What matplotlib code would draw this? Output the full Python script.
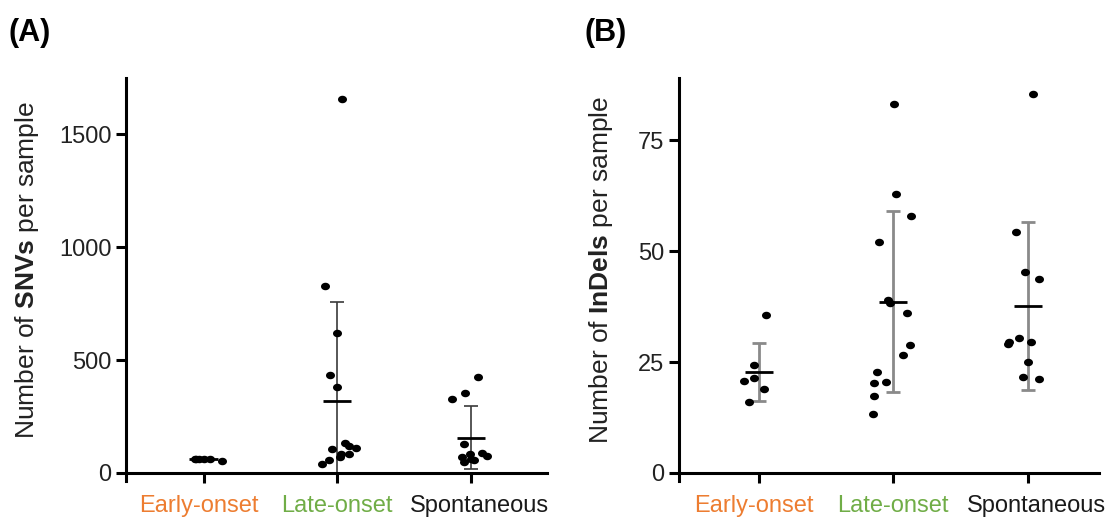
import numpy as np
import matplotlib
matplotlib.use("Agg")
import matplotlib.pyplot as plt
from matplotlib.transforms import ScaledTranslation

plt.rcParams['font.family'] = ['Liberation Sans', 'DejaVu Sans']
plt.rcParams['mathtext.fontset'] = 'custom'
plt.rcParams['mathtext.rm'] = 'Liberation Sans'
plt.rcParams['mathtext.bf'] = 'Liberation Sans:bold'

# categories
groups = ['Early-onset', 'Late-onset', 'Spontaneous']
group_colors = ['#ED7D31', '#70AD47', '#1a1a1a']

# (A) SNVs per sample
snv_early = [61, 64, 64, 62, 53, 60]
snv_late = [1658, 829, 619, 434, 379, 133, 120, 110, 105, 83, 84, 71, 59, 40]
snv_spon = [426, 355, 330, 130, 71, 82, 89, 74, 59, 49, 62]
snv_mean = [60, 320, 157]
snv_sd = [5, 438, 139]

# (B) InDels per sample
indel_early = [35.6, 24.3, 20.7, 21.4, 18.9, 15.9]
indel_late = [83.1, 62.9, 57.9, 52.0, 39.0, 38.4, 36.1, 28.8, 26.5, 22.7, 20.2, 20.4, 17.3, 13.4]
indel_spon = [85.3, 54.2, 45.4, 43.6, 29.6, 29.1, 30.4, 29.6, 25.1, 21.7, 21.1]
indel_mean = [22.8, 38.6, 37.6]
indel_sd = [6.6, 20.4, 18.9]

# horizontal scatter of the dots (jitter), in category units
snv_jit = [
    [-0.067, -0.035, 0.05, 0.0, 0.14, -0.06],
    [0.037, -0.094, 0.0, -0.055, 0.0, 0.062, 0.087, 0.137, -0.042, 0.025, 0.087, 0.02, -0.062, -0.117],
    [0.05, -0.045, -0.14, -0.055, -0.07, -0.005, 0.08, 0.124, 0.025, -0.055, 0.0],
]
indel_jit = [
    [0.05, -0.037, -0.114, -0.037, 0.037, -0.074],
    [0.007, 0.02, 0.131, -0.104, -0.037, -0.025, 0.104, 0.124, 0.069, -0.119, -0.141, -0.055, -0.141, -0.149],
    [0.037, -0.087, -0.02, 0.082, -0.136, -0.149, -0.062, 0.025, 0.005, -0.037, 0.082],
]

# small sideways nudges of the category labels (points)
label_shift = [-3.6, 0, 6.5]

t = np.linspace(0, 2 * np.pi, 40)
dot = np.column_stack([1.2 * np.cos(t), np.sin(t)])


def draw_panel(fig, ax, series, jit, means, sds, ylim, yticks, xlim, ebar_color, ebar_lw,
               ylabel, label_x):
    for i, (vals, dx) in enumerate(zip(series, jit)):
        ax.scatter(i + np.array(dx), vals, s=42, marker=dot, color='black',
                   linewidths=0, zorder=3)
        ax.errorbar(i, means[i], yerr=sds[i], fmt='none', ecolor=ebar_color,
                    elinewidth=ebar_lw, capsize=5, capthick=ebar_lw, zorder=2)
        ax.hlines(means[i], i - 0.105, i + 0.105, color='black', lw=2, zorder=4)
    ax.set_xlim(*xlim)
    ax.set_ylim(*ylim)
    ax.set_yticks(yticks)
    ax.set_xticks(range(len(groups)))
    ax.set_xticklabels(groups)
    for s in ['top', 'right']:
        ax.spines[s].set_visible(False)
    for s in ['left', 'bottom']:
        ax.spines[s].set_linewidth(2.2)
    ax.spines['left'].set_bounds(-0.02 * ylim[1], ylim[1])
    ax.tick_params(axis='both', width=2.2, length=7, labelsize=17, colors='black')
    ax.tick_params(axis='y', labelcolor='#222222')
    ax.tick_params(axis='x', pad=9)
    for lab, c, sh in zip(ax.get_xticklabels(), group_colors, label_shift):
        lab.set_color(c)
        lab.set_transform(lab.get_transform() + ScaledTranslation(sh / 72, 0, fig.dpi_scale_trans))
    ax.set_ylabel(ylabel, fontsize=19, color='#222222')
    ax.yaxis.set_label_coords(label_x, 0.515)


fig = plt.figure(figsize=(11.14, 5.2), dpi=100)
axA = fig.add_axes([0.1131, 0.0904, 0.378, 0.7596])
axB = fig.add_axes([0.6095, 0.0904, 0.377, 0.7596])

draw_panel(fig, axA, [snv_early, snv_late, snv_spon], snv_jit, snv_mean, snv_sd,
           (0, 1750), [0, 500, 1000, 1500], (-0.58, 2.57), '#3a3a3a', 1.2,
           r'Number of $\mathbf{SNVs}$ per sample', -0.202)
draw_panel(fig, axB, [indel_early, indel_late, indel_spon], indel_jit, indel_mean, indel_sd,
           (0, 89), [0, 25, 50, 75], (-0.595, 2.53), '#8a8a8a', 2.0,
           r'Number of $\mathbf{InDels}$ per sample', -0.152)

fig.text(0.008, 0.922, '(A)', fontsize=22, fontweight='bold')
fig.text(0.525, 0.922, '(B)', fontsize=22, fontweight='bold')

fig.savefig('out.png', dpi=100)
